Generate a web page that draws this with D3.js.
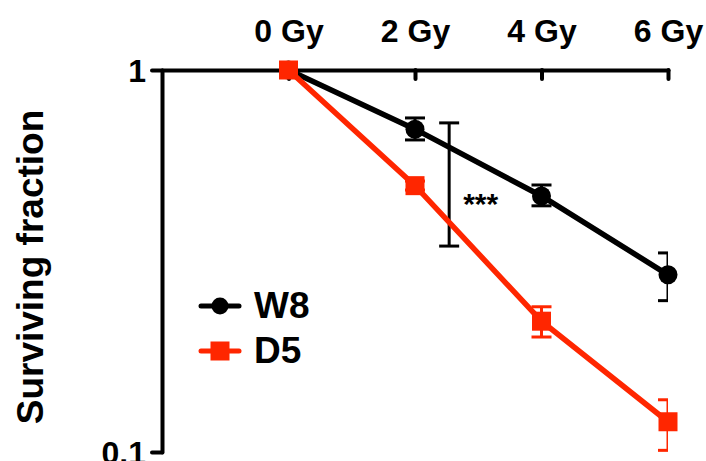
<!DOCTYPE html>
<html>
<head>
<meta charset="utf-8">
<script src="https://cdn.jsdelivr.net/npm/d3@7"></script>
<style>
  body { margin: 0; background: #fff; }
  svg { display: block; font-family: 'Liberation Sans', Arial, sans-serif; font-weight: bold; }
</style>
</head>
<body>
<div id="chart-area"></div>
<script>
// surviving fraction after irradiation, log y axis

var doses = [0, 2, 4, 6]
var doseLabels = ['0 Gy', '2 Gy', '4 Gy', '6 Gy']
var yTicks = [0.1, 1]

var w8Mean = [1, 0.700, 0.468, 0.291]
var w8Hi   = [1, 0.749, 0.500, 0.332]
var w8Lo   = [1, 0.656, 0.441, 0.249]

var d5Mean = [1, 0.498, 0.220, 0.120]
var d5Hi   = [1, 0.512, 0.240, 0.137]
var d5Lo   = [1, 0.485, 0.200, 0.101]

var sigDose = 2.54
var sigRange = [0.346, 0.727]
var sigLabel = '***'

var red = '#ff2600'

var width = 706, height = 461
var plot = { left: 162, right: 668, top: 70, bottom: 452 }

var svg = d3.select('#chart-area')
  .append('svg')
    .attr('width', width)
    .attr('height', height)

var x = d3.scaleLinear()
    .domain([-2, 6])
    .range([plot.left, plot.right])

var y = d3.scaleLog()
    .domain([0.1, 1])
    .range([plot.bottom, plot.top])

// clip for error bars (GraphPad cuts them at the axis end)
svg.append('clipPath')
    .attr('id', 'plot-clip')
  .append('rect')
    .attr('x', plot.left)
    .attr('y', 0)
    .attr('width', plot.right - plot.left)
    .attr('height', height)

// axes
var xAxisCall = d3.axisTop(x)
    .tickValues(doses)
    .tickFormat((d, i) => doseLabels[i])
    .tickSizeInner(-9)
    .tickSizeOuter(0)
    .tickPadding(28)
var xAxis = svg.append('g')
    .attr('class', 'x axis')
    .attr('transform', 'translate(0,' + plot.top + ')')
    .call(xAxisCall)

var yAxisCall = d3.axisLeft(y)
    .tickValues(yTicks)
    .tickFormat(d => d === 1 ? '1' : '0.1')
    .tickSizeInner(10)
    .tickSizeOuter(0)
    .tickPadding(6)
var yAxis = svg.append('g')
    .attr('class', 'y axis')
    .attr('transform', 'translate(' + plot.left + ',0)')
    .call(yAxisCall)

svg.selectAll('.axis path, .axis line')
    .attr('stroke', '#000')
    .attr('stroke-width', 4)
    .attr('stroke-linecap', 'round')
svg.selectAll('.axis text')
    .attr('fill', '#000')
    .attr('font-size', '32px')
    .attr('font-family', 'Liberation Sans, Arial, sans-serif')
    .attr('font-weight', 'bold')
yAxis.selectAll('text').attr('dy', '0.36em')

svg.append('text')
  .attr('x', -(plot.top + plot.bottom) / 2 - 6)
  .attr('y', 43)
  .attr('font-size', '37px')
  .attr('text-anchor', 'middle')
  .attr('transform', 'rotate(-90)')
  .text('Surviving fraction')

// significance bar
var sig = svg.append('g')
sig.append('line')
  .attr('x1', x(sigDose)).attr('x2', x(sigDose))
  .attr('y1', y(sigRange[0])).attr('y2', y(sigRange[1]))
sigRange.forEach(v => {
  sig.append('line')
    .attr('x1', x(sigDose) - 10).attr('x2', x(sigDose) + 10)
    .attr('y1', y(v)).attr('y2', y(v))
})
sig.selectAll('line').attr('stroke', '#000').attr('stroke-width', 3)
sig.append('text')
  .attr('x', x(sigDose) + 14)
  .attr('y', (y(sigRange[0]) + y(sigRange[1])) / 2 + 30)
  .attr('font-size', '30px')
  .text(sigLabel)

function drawSeries(mean, hi, lo, color, shape) {
  var pts = doses.map((d, i) => ({ dose: d, m: mean[i], hi: hi[i], lo: lo[i] }))
  var g = svg.append('g')

  g.append('path')
    .datum(pts)
    .attr('fill', 'none')
    .attr('stroke', color)
    .attr('stroke-width', 5.5)
    .attr('d', d3.line().x(d => x(d.dose)).y(d => y(d.m)))

  var err = g.append('g')
      .attr('clip-path', 'url(#plot-clip)')
      .attr('stroke', color)
      .attr('stroke-width', 3)
  var bars = err.selectAll('g')
      .data(pts.filter(d => d.hi !== d.lo))
    .enter().append('g')
  bars.append('line')
      .attr('x1', d => x(d.dose)).attr('x2', d => x(d.dose))
      .attr('y1', d => y(d.hi)).attr('y2', d => y(d.lo))
  bars.append('line')
      .attr('x1', d => x(d.dose) - 10).attr('x2', d => x(d.dose) + 10)
      .attr('y1', d => y(d.hi)).attr('y2', d => y(d.hi))
  bars.append('line')
      .attr('x1', d => x(d.dose) - 10).attr('x2', d => x(d.dose) + 10)
      .attr('y1', d => y(d.lo)).attr('y2', d => y(d.lo))

  if (shape === 'circle') {
    g.selectAll('circle')
        .data(pts)
      .enter().append('circle')
        .attr('cx', d => x(d.dose))
        .attr('cy', d => y(d.m))
        .attr('r', 9.5)
        .attr('fill', color)
  } else {
    g.selectAll('rect')
        .data(pts)
      .enter().append('rect')
        .attr('x', d => x(d.dose) - 9.5)
        .attr('y', d => y(d.m) - 9.5)
        .attr('width', 19)
        .attr('height', 19)
        .attr('fill', color)
  }
}

drawSeries(w8Mean, w8Hi, w8Lo, '#000', 'circle')
drawSeries(d5Mean, d5Hi, d5Lo, red, 'square')

// legend
var legend = [
  { name: 'W8', color: '#000', shape: 'circle', y: 306 },
  { name: 'D5', color: red, shape: 'square', y: 351 }
]
var lg = svg.selectAll('.legend')
    .data(legend)
  .enter().append('g')
    .attr('class', 'legend')
    .attr('transform', d => 'translate(0,' + d.y + ')')
lg.append('line')
    .attr('x1', 201).attr('x2', 239)
    .attr('stroke', d => d.color)
    .attr('stroke-width', 5)
    .attr('stroke-linecap', 'round')
lg.filter(d => d.shape === 'circle').append('circle')
    .attr('cx', 220).attr('r', 8.5)
    .attr('fill', d => d.color)
lg.filter(d => d.shape === 'square').append('rect')
    .attr('x', 210.5).attr('y', -9.5)
    .attr('width', 19).attr('height', 19)
    .attr('fill', d => d.color)
lg.append('text')
    .attr('x', 254)
    .attr('y', 12)
    .attr('font-size', '37px')
    .text(d => d.name)
</script>
</body>
</html>
